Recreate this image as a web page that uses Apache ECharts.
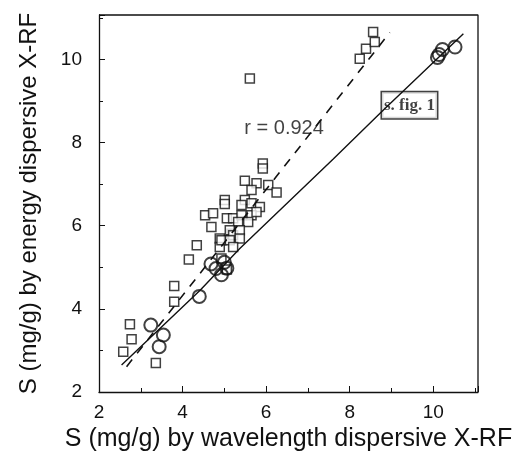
<!DOCTYPE html>
<html>
	<head>
		<meta charset="UTF-8">
		<title>S by X-RF</title>
		<style>
			body { margin: 0; background: #fff; }
			#main { width: 516px; height: 461px; }
		</style>
	</head>
	<body>
		<div id="main"></div>
		<script src="https://cdn.jsdelivr.net/npm/echarts/dist/echarts.min.js"></script>
		<script type="text/javascript">
			// squares: samples, circles: standards (s. fig. 1)
			var squares = [
				[2.74, 3.63], [2.78, 3.27], [2.58, 2.97], [3.36, 2.70], [3.80, 4.55], [3.80, 4.17],
				[4.15, 5.19], [4.34, 5.53], [4.54, 6.25], [4.73, 6.30], [4.69, 5.97], [5.06, 6.18],
				[5.01, 6.62], [5.01, 6.52], [4.89, 5.69], [4.89, 5.49], [5.17, 5.81], [5.06, 4.95],
				[5.61, 9.54], [5.92, 7.50], [5.92, 7.38], [5.49, 7.08], [5.77, 7.02], [6.05, 6.98],
				[6.25, 6.80], [5.65, 6.86], [5.49, 6.62], [5.41, 6.50], [5.65, 6.54], [5.85, 6.45],
				[5.21, 6.18], [5.41, 6.25], [5.65, 6.25], [5.77, 6.33], [5.33, 6.09], [5.57, 6.09],
				[5.13, 5.89], [5.21, 5.77], [5.37, 5.89], [4.93, 5.65], [5.13, 5.65], [5.37, 5.69],
				[4.93, 5.21], [5.21, 5.49], [8.24, 10.02], [8.39, 10.26], [8.56, 10.66], [8.60, 10.42]
			];
			var circles = [
				[3.24, 3.61], [3.54, 3.37], [3.44, 3.09], [4.40, 4.30], [4.68, 5.08], [4.80, 4.97],
				[4.93, 4.82], [5.06, 4.98], [5.00, 5.12], [10.10, 10.05], [10.14, 10.12], [10.22, 10.24],
				[10.52, 10.30]
			];
			var regression = [[2.66, 2.61], [8.96, 10.65]];
			var calibration = [[2.54, 2.65], [4.42, 4.45], [5.37, 5.45], [7.6, 7.6], [8.8, 8.78], [10.72, 10.62]];
			var rLabel = [[6.43, 8.35]];
			var figLabel = [[9.43, 8.90]];
			var axisMin = 2, axisMax = 11.07;
			// box around the plot: top and right edges
			var frameEdges = [[axisMin, axisMax], [axisMax, axisMax], [axisMax, axisMin]];

			var dom = document.getElementById("main");
			var myChart = echarts.init(dom);
			var font = 'Liberation Sans';
			var frameLine = { color: '#111', width: 1.3 };
			var option = {
				animation: false,
				grid: {
					left: 99,
					right: 38,
					top: 15,
					bottom: 69
				},
				xAxis: {
					type: 'value',
					min: axisMin,
					max: axisMax,
					interval: 2,
					name: 'S (mg/g) by wavelength dispersive X-RF',
					nameLocation: 'middle',
					nameGap: 35,
					nameTextStyle: { color: '#111', fontSize: 25, fontFamily: font },
					axisLine: { onZero: false, lineStyle: frameLine },
					axisTick: { inside: true, length: 6, lineStyle: { color: '#111' } },
					minorTick: { show: true, splitNumber: 2, length: 4, lineStyle: { color: '#111' } },
					axisLabel: { color: '#111', fontSize: 19, fontFamily: font, margin: 11, showMaxLabel: false },
					splitLine: { show: false }
				},
				yAxis: {
					type: 'value',
					min: axisMin,
					max: axisMax,
					interval: 2,
					name: 'S (mg/g) by energy dispersive X-RF',
					nameLocation: 'middle',
					nameGap: 58,
					nameTextStyle: { color: '#111', fontSize: 24, fontFamily: font },
					axisLine: { onZero: false, lineStyle: frameLine },
					axisTick: { inside: true, length: 6, lineStyle: { color: '#111' } },
					minorTick: { show: true, splitNumber: 2, length: 4, lineStyle: { color: '#111' } },
					axisLabel: { color: '#111', fontSize: 19, fontFamily: font, margin: 17, showMaxLabel: false },
					splitLine: { show: false }
				},
				series: [{
					type: 'line',
					data: frameEdges,
					symbol: 'none',
					clip: false,
					silent: true,
					lineStyle: frameLine
				}, {
					type: 'line',
					data: calibration,
					symbol: 'none',
					lineStyle: { color: '#111', width: 1.4 },
					silent: true
				}, {
					type: 'line',
					data: regression,
					symbol: 'none',
					lineStyle: { color: '#111', width: 1.6, type: [9, 8] },
					silent: true
				}, {
					type: 'scatter',
					data: squares,
					symbol: 'rect',
					symbolSize: 9,
					itemStyle: { color: '#fff', borderColor: '#111', borderWidth: 1.5 }
				}, {
					type: 'scatter',
					data: circles,
					symbol: 'circle',
					symbolSize: 13,
					itemStyle: { color: 'rgba(255,255,255,0)', borderColor: '#111', borderWidth: 2 }
				}, {
					type: 'scatter',
					data: rLabel,
					symbolSize: 0,
					label: {
						show: true,
						position: 'inside',
						formatter: 'r = 0.924',
						color: '#111',
						fontSize: 20,
						fontFamily: font
					}
				}, {
					type: 'scatter',
					data: figLabel,
					symbolSize: 0,
					label: {
						show: true,
						position: 'inside',
						formatter: 's. fig. 1',
						color: '#111',
						fontSize: 17,
						fontWeight: 'bold',
						fontFamily: 'Liberation Serif',
						backgroundColor: '#fff',
						borderColor: '#111',
						borderWidth: 1.5,
						padding: [5, 2, 4, 2]
					}
				}]
			};
			if(option && typeof option === "object") {
				myChart.setOption(option, true);
			}
		</script>
	</body>
</html>
